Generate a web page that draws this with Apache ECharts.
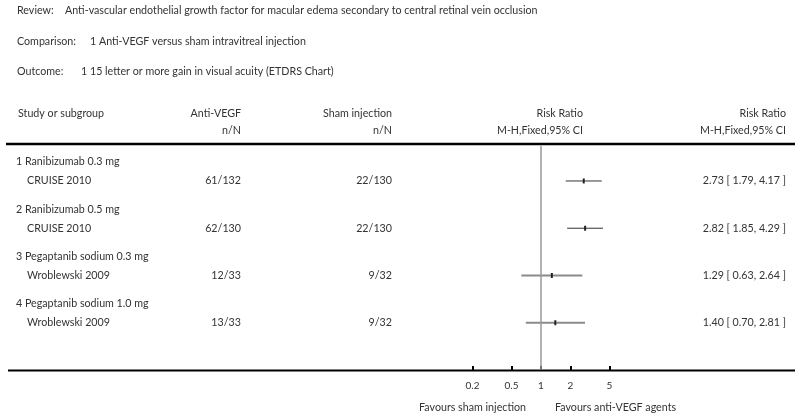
<!DOCTYPE html>
<html>
<head>
<meta charset="utf-8">
<script src="https://cdn.jsdelivr.net/npm/echarts@6/dist/echarts.min.js"></script>
<style>
  html, body { margin: 0; padding: 0; background: #fff; }
  #forest { width: 800px; height: 418px; }
</style>
</head>
<body>
<div id="forest"></div>
<script>
// data
var groups = ['1 Ranibizumab 0.3 mg', '2 Ranibizumab 0.5 mg', '3 Pegaptanib sodium 0.3 mg', '4 Pegaptanib sodium 1.0 mg'];
var studies = ['CRUISE 2010', 'CRUISE 2010', 'Wroblewski 2009', 'Wroblewski 2009'];
var antiVegf = ['61/132', '62/130', '12/33', '13/33'];
var sham = ['22/130', '22/130', '9/32', '9/32'];
var rr = [2.73, 2.82, 1.29, 1.40];
var lower = [1.79, 1.85, 0.63, 0.70];
var upper = [4.17, 4.29, 2.64, 2.81];
var tickValues = [0.2, 0.5, 1, 2, 5];

var lineColors = ['#333', '#333', '#8a8a8a', '#8a8a8a'];
var lineWidths = [1, 1, 2, 2];

var FONT = 'Lato, "Open Sans", sans-serif';
var FS = '10.7px ';
var TXT = '#333';

var chartDom = document.getElementById('forest');
var myChart = echarts.init(chartDom);
var option;

function txt(x, y, s, align) {
    return {
        type: 'text', x: x, y: y,
        style: { text: s, fill: TXT, font: FS + FONT, textAlign: align || 'left', textVerticalAlign: 'middle' }
    };
}

var rows = rr.map(function (v, i) { return [i, lower[i], upper[i], v]; });

option = {
    animation: false,
    grid: { left: 345, width: 392, top: 146, bottom: 48 },
    xAxis: {
        type: 'log',
        logBase: 10,
        min: 0.01,
        max: 100,
        axisLine: { show: false, onZero: false },
        splitLine: { show: false },
        axisTick: { show: true, inside: true, length: 4, customValues: tickValues, lineStyle: { color: '#000', width: 2 } },
        axisLabel: {
            customValues: tickValues,
            margin: 11,
            color: TXT,
            fontSize: 10,
            fontFamily: FONT,
            formatter: function (v) { return String(v); }
        }
    },
    yAxis: { type: 'value', inverse: true, min: -0.74, max: 4, show: false },
    graphic: [
        txt(17, 11, 'Review:'),
        txt(65, 11, 'Anti-vascular endothelial growth factor for macular edema secondary to central retinal vein occlusion'),
        txt(17, 42, 'Comparison:'),
        txt(90, 42, '1 Anti-VEGF versus sham intravitreal injection'),
        txt(17, 72, 'Outcome:'),
        txt(81, 72, '1 15 letter or more gain in visual acuity (ETDRS Chart)'),
        txt(18, 114, 'Study or subgroup'),
        txt(241, 114, 'Anti-VEGF', 'right'),
        txt(241, 131, 'n/N', 'right'),
        txt(392, 114, 'Sham injection', 'right'),
        txt(392, 131, 'n/N', 'right'),
        txt(583, 114, 'Risk Ratio', 'right'),
        txt(583, 131, 'M-H,Fixed,95% CI', 'right'),
        txt(786, 114, 'Risk Ratio', 'right'),
        txt(786, 131, 'M-H,Fixed,95% CI', 'right'),
        { type: 'line', shape: { x1: 6, y1: 144, x2: 795, y2: 144 }, style: { stroke: '#000', lineWidth: 2.5 } },
        { type: 'line', shape: { x1: 8, y1: 370.5, x2: 795, y2: 370.5 }, style: { stroke: '#000', lineWidth: 2 } },
        txt(526, 408, 'Favours sham injection', 'right'),
        txt(555, 408, 'Favours anti-VEGF agents')
    ],
    series: [
        {
            type: 'custom',
            name: 'ci',
            clip: false,
            data: rows,
            renderItem: function (params, api) {
                var i = params.dataIndex;
                var a = api.coord([api.value(1), api.value(0)]);
                var b = api.coord([api.value(2), api.value(0)]);
                var p = api.coord([api.value(3), api.value(0)]);
                return {
                    type: 'group',
                    children: [
                        { type: 'line', shape: { x1: a[0], y1: a[1], x2: b[0], y2: b[1] }, style: { stroke: lineColors[i], lineWidth: lineWidths[i] } },
                        { type: 'rect', shape: { x: p[0] - 1, y: p[1] - 2.5, width: 2, height: 5 }, style: { fill: '#222' } }
                    ]
                };
            },
            markLine: {
                silent: true,
                symbol: 'none',
                label: { show: false },
                lineStyle: { color: '#999', width: 1.5, type: 'solid' },
                data: [{ xAxis: 1 }]
            }
        },
        {
            type: 'custom',
            name: 'table',
            clip: false,
            data: rows,
            renderItem: function (params, api) {
                var i = params.dataIndex;
                var y = api.coord([1, api.value(0)])[1];
                var est = rr[i].toFixed(2) + ' [ ' + lower[i].toFixed(2) + ', ' + upper[i].toFixed(2) + ' ]';
                var t = function (x, yy, s, align) {
                    return { type: 'text', x: x, y: yy, style: { text: s, fill: TXT, font: FS + FONT, textAlign: align, textVerticalAlign: 'middle' } };
                };
                return {
                    type: 'group',
                    children: [
                        t(16, y - 19, groups[i], 'left'),
                        t(27, y, studies[i], 'left'),
                        t(241, y, antiVegf[i], 'right'),
                        t(392, y, sham[i], 'right'),
                        t(786, y, est, 'right')
                    ]
                };
            }
        }
    ]
};

option && myChart.setOption(option);
</script>
</body>
</html>
